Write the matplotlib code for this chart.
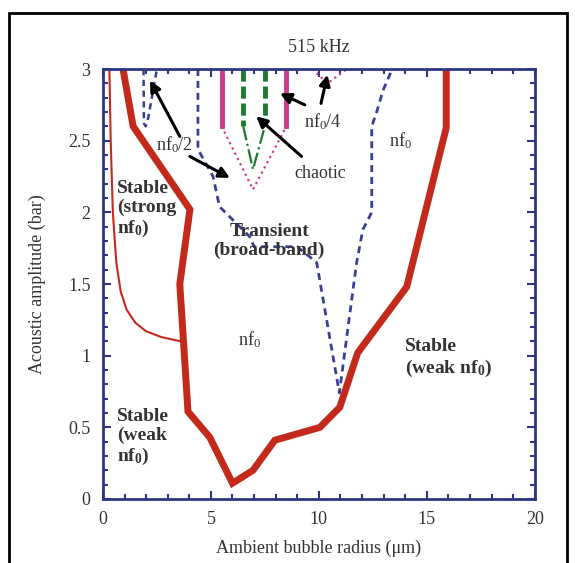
import numpy as np
import matplotlib
matplotlib.use("Agg")
from matplotlib import pyplot as plt
from matplotlib.patches import Rectangle
from matplotlib.ticker import MultipleLocator

plt.rcParams['font.family'] = ['Liberation Serif', 'DejaVu Serif']
plt.rcParams['mathtext.fontset'] = 'custom'
plt.rcParams['mathtext.rm'] = 'Liberation Serif'
plt.rcParams['mathtext.it'] = 'Liberation Serif:italic'
plt.rcParams['mathtext.bf'] = 'Liberation Serif:bold'

# thick red boundary (stable / unstable)
red_x = [0.93, 1.4, 4.03, 3.56, 3.94, 4.95, 6.0, 6.95, 7.96, 10.05, 10.97, 11.8, 14.07, 15.9, 15.9]
red_y = [3.0, 2.6, 2.02, 1.5, 0.61, 0.43, 0.11, 0.2, 0.41, 0.5, 0.64, 1.02, 1.48, 2.59, 3.0]

# thin red boundary (strong nf0)
thin_x = [0.3, 0.36, 0.46, 0.62, 0.82, 1.1, 1.5, 2.0, 2.7, 3.6]
thin_y = [3.0, 2.5, 2.0, 1.65, 1.45, 1.32, 1.23, 1.17, 1.13, 1.1]

# blue dashed: small nf0/2 region near top-left
nfh_x = [1.88, 1.9, 1.98, 2.1, 2.5]
nfh_y = [3.0, 2.62, 2.6, 2.66, 3.0]

# blue dashed: transient region outline
tr_x = [4.4, 4.4, 5.1, 5.4, 6.8, 7.0, 9.0, 9.9, 10.95, 11.75, 12.04, 12.45, 12.45, 12.7, 12.97, 13.4]
tr_y = [3.0, 2.44, 2.25, 2.04, 1.83, 1.76, 1.76, 1.65, 0.74, 1.65, 1.88, 2.0, 2.6, 2.71, 2.85, 3.0]

# magenta: solid verticals and dotted V
mag_vx = [5.5, 8.5]
mag_top, mag_bot = 3.0, 2.6
magv_x = [5.5, 6.95, 8.5]
magv_y = [2.6, 2.16, 2.6]
mag4_x = [9.7, 10.4, 11.3]
mag4_y = [3.0, 2.9, 3.0]

# green: dashed verticals and dash-dot V
grn_vx = [6.5, 7.5]
grnv_x = [6.5, 6.95, 7.5]
grnv_y = [2.6, 2.3, 2.6]

navy = '#2d3585'
red = '#c42a1c'
blue = '#3a3f95'
mag = '#cc3a8e'
green = '#1f7a30'
txt = '#333333'

fig = plt.figure(figsize=(5.75, 5.63), dpi=100)
ax = fig.add_axes([0.179, 0.1137, 0.751, 0.7637])

ax.plot(thin_x, thin_y, color=red, lw=1.5)
ax.plot(red_x, red_y, color=red, lw=5, solid_joinstyle='miter')
ax.plot(nfh_x, nfh_y, color=blue, lw=1.8, dashes=(2.5, 1.8))
ax.plot(tr_x, tr_y, color=blue, lw=2, dashes=(2.5, 1.8))
for xv in mag_vx:
    ax.plot([xv, xv], [mag_top, mag_bot], color=mag, lw=3.5)
ax.plot(magv_x, magv_y, color=mag, lw=1.6, linestyle=':')
ax.plot(mag4_x, mag4_y, color=mag, lw=1.6, linestyle=':')
for xv in grn_vx:
    ax.plot([xv, xv], [mag_top, mag_bot], color=green, lw=3.5, dashes=(2.5, 1))
ax.plot(grnv_x, grnv_y, color=green, lw=1.6, linestyle='-.')

ax.set_xlim(0, 20)
ax.set_ylim(0, 3)
ax.xaxis.set_major_locator(MultipleLocator(5))
ax.xaxis.set_minor_locator(MultipleLocator(1))
ax.yaxis.set_major_locator(MultipleLocator(0.5))
ax.yaxis.set_minor_locator(MultipleLocator(0.1))
ax.set_xticks([0, 5, 10, 15, 20], ['0', '5', '10', '15', '20'])
ax.set_yticks([0, 0.5, 1, 1.5, 2, 2.5, 3], ['0', '0.5', '1', '1.5', '2', '2.5', '3'])
ax.tick_params(which='both', direction='in', top=True, right=True, color=navy,
               labelcolor=txt, labelsize=13, width=1.5)
ax.tick_params(which='major', length=6, pad=9)
ax.tick_params(which='minor', length=3.5)
for s in ax.spines.values():
    s.set_color(navy)
    s.set_linewidth(2)

ax.set_title('515 kHz', fontsize=13, color=txt, pad=12)
ax.set_xlabel('Ambient bubble radius (μm)', fontsize=13, color=txt, labelpad=8)
ax.set_ylabel('Acoustic amplitude (bar)', fontsize=13, color=txt, labelpad=16)

# region labels
bold = dict(fontsize=14, fontweight='bold', color=txt)
ax.text(0.65, 2.02, 'Stable\n(strong\n' + r'$\mathbf{nf_0}$)', ha='left', va='center',
        linespacing=1.15, **bold)
ax.text(7.7, 1.8, 'Transient\n(broad-band)', ha='center', va='center', linespacing=1.15, **bold)
ax.text(14.0, 0.98, 'Stable\n(weak ' + r'$\mathbf{nf_0}$)', ha='left', va='center',
        linespacing=1.15, **bold)
ax.text(0.65, 0.43, 'Stable\n(weak\n' + r'$\mathbf{nf_0}$)', ha='left', va='center',
        linespacing=1.15, **bold)
ax.text(6.8, 1.11, r'$\mathrm{nf_0}$', ha='center', va='center', fontsize=13, color=txt)
ax.text(13.8, 2.5, r'$\mathrm{nf_0}$', ha='center', va='center', fontsize=13, color=txt)

arrow = dict(arrowstyle='-|>', color='black', lw=2.2, mutation_scale=16, shrinkA=0, shrinkB=0)
ax.text(3.3, 2.47, r'$\mathrm{nf_0/2}$', ha='center', va='center', fontsize=13, color=txt)
ax.annotate('', xy=(2.18, 2.92), xytext=(3.56, 2.53), arrowprops=arrow)
ax.annotate('', xy=(5.88, 2.24), xytext=(4.03, 2.39), arrowprops=arrow)
ax.text(10.05, 2.27, 'chaotic', ha='center', va='center', fontsize=13, color=txt)
ax.annotate('', xy=(7.1, 2.67), xytext=(9.2, 2.39), arrowprops=arrow)
ax.text(10.2, 2.63, r'$\mathrm{nf_0/4}$', ha='center', va='center', fontsize=13, color=txt)
ax.annotate('', xy=(8.2, 2.83), xytext=(9.35, 2.75), arrowprops=arrow)
ax.annotate('', xy=(10.4, 2.96), xytext=(10.1, 2.76), arrowprops=arrow)

# outer black frame
fig.patches.append(Rectangle((9 / 575, -0.1), 558 / 575, 1.1 - 13 / 563, transform=fig.transFigure,
                             fill=False, edgecolor='black', lw=2))

fig.savefig('out.png', dpi=100)
